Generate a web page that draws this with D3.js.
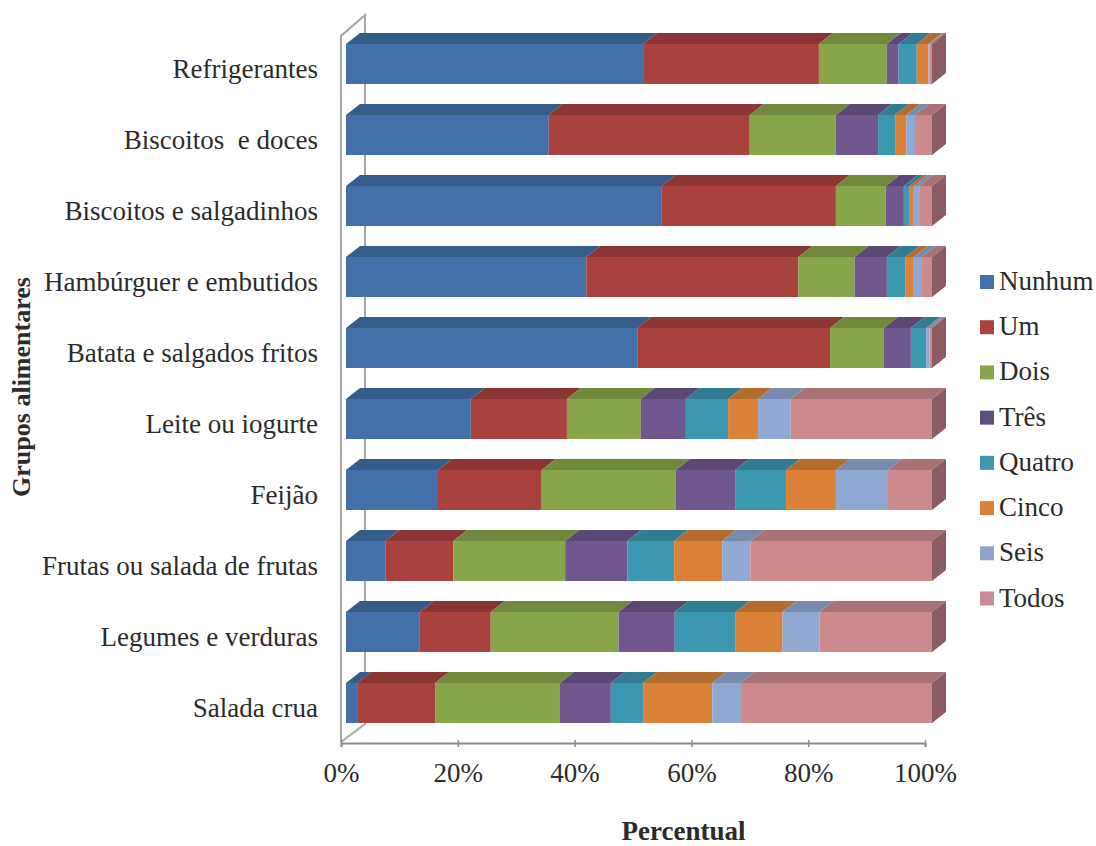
<!DOCTYPE html>
<html lang="pt">
<head>
<meta charset="utf-8">
<title>Grupos alimentares</title>
<script src="https://cdn.jsdelivr.net/npm/d3@7/dist/d3.min.js"></script>
<style>
  html, body { margin: 0; padding: 0; background: #fff; }
  svg { display: block; }
  text { font-family: "Liberation Serif", serif; fill: #2b2b2b; }
</style>
</head>
<body>
<svg id="chart" width="1096" height="846"></svg>
<script>
// Categories, top to bottom
const categories = ["Refrigerantes", "Biscoitos  e doces", "Biscoitos e salgadinhos",
  "Hambúrguer e embutidos", "Batata e salgados fritos", "Leite ou iogurte", "Feijão",
  "Frutas ou salada de frutas", "Legumes e verduras", "Salada crua"];

// Number of days per series (percent of respondents, one value per category)
const nunhum = [50.7, 34.6, 53.9, 41.0, 49.7, 21.3, 15.7, 6.7, 12.6, 1.9];
const um     = [30.0, 34.3, 29.7, 36.2, 32.9, 16.4, 17.7, 11.6, 12.1, 13.3];
const dois   = [11.6, 14.7, 8.5, 9.6, 9.2, 12.6, 22.9, 19.1, 21.8, 21.3];
const tres   = [2.0, 7.2, 3.1, 5.5, 4.6, 7.7, 10.1, 10.6, 9.6, 8.7];
const quatro = [3.1, 2.9, 1.0, 3.2, 2.6, 7.2, 8.7, 8.0, 10.4, 5.5];
const cinco  = [2.0, 1.9, 0.7, 1.4, 0.0, 5.1, 8.5, 8.2, 8.0, 11.8];
const seis   = [0.2, 1.5, 0.9, 1.4, 0.6, 5.6, 8.9, 4.8, 6.3, 4.9];
const todos  = [0.4, 2.9, 2.2, 1.7, 0.4, 24.1, 7.5, 31.0, 19.2, 32.6];

const seriesNames = ["Nunhum", "Um", "Dois", "Três", "Quatro", "Cinco", "Seis", "Todos"];
const seriesValues = [nunhum, um, dois, tres, quatro, cinco, seis, todos];
const seriesColors = ["#4171a8", "#a9423f", "#89a54a", "#70578e", "#3c97b1", "#db8238", "#8fa9d2", "#cd8a8c"];
const legendColors = ["#4171a8", "#a9423f", "#89a54a", "#5d4e80", "#3c97b1", "#db8238", "#8fa2cc", "#c98a9c"];
const axisTicks = [0, 20, 40, 60, 80, 100];

const svg = d3.select("#chart");
const fontSize = 27;

// Front plane of the bars and the axis plane are offset by the 3D perspective
const x = d3.scaleLinear().domain([0, 100]).range([346, 932]);
const axisX = d3.scaleLinear().domain([0, 100]).range([341, 925]);
const y = d3.scaleBand().domain(categories).range([44, 723]).paddingInner(31 / 71).paddingOuter(0);

const depthX = 14, depthY = 11;
const wallColor = "#a6a6a6";
const axisColor = "#8c8c8c";

// Wall and floor outline behind the bars
const wall = svg.append("g").attr("fill", "none").attr("stroke", wallColor).attr("stroke-width", 2);
wall.append("path").attr("d", d3.line()([[341, 742], [341, 36], [365, 15], [365, 724], [341, 742]]));

// Stacked segments
const stackData = categories.map((c, i) => {
  const row = { category: c };
  seriesNames.forEach((s, k) => { row[s] = seriesValues[k][i]; });
  return row;
});
const stacked = d3.stack().keys(seriesNames)(stackData);

const polygon = pts => pts.map(p => p.join(",")).join(" ");

const bars = svg.append("g");
categories.forEach((c, i) => {
  const top = y(c), h = y.bandwidth();
  const g = bars.append("g");
  // top faces first so that the fronts overlap their seams
  stacked.forEach((layer, k) => {
    const [a, b] = layer[i];
    if (b - a <= 0) return;
    g.append("polygon")
      .attr("points", polygon([[x(a), top], [x(a) + depthX, top - depthY], [x(b) + depthX, top - depthY], [x(b), top]]))
      .attr("fill", d3.color(seriesColors[k]).darker(0.55));
  });
  // right end of the stack
  const endLayer = stacked[stacked.length - 1][i];
  g.append("polygon")
    .attr("points", polygon([[x(endLayer[1]), top], [x(endLayer[1]) + depthX, top - depthY],
      [x(endLayer[1]) + depthX, top + h - depthY], [x(endLayer[1]), top + h]]))
    .attr("fill", "#8b5c64");
  stacked.forEach((layer, k) => {
    const [a, b] = layer[i];
    if (b - a <= 0) return;
    g.append("rect")
      .attr("x", x(a)).attr("y", top)
      .attr("width", x(b) - x(a)).attr("height", h)
      .attr("fill", seriesColors[k]);
  });
});

// Horizontal value axis
const axis = d3.axisBottom(axisX).tickValues(axisTicks).tickFormat(d => d + "%").tickSize(4).tickPadding(16);
const axisG = svg.append("g").attr("transform", "translate(0,743)").call(axis);
axisG.selectAll("path,line").attr("stroke", axisColor).attr("stroke-width", 2);
axisG.selectAll(".tick line").attr("stroke-width", 1.5).attr("y1", -3);
axisG.selectAll("text").attr("font-size", fontSize).attr("font-family", "Liberation Serif").attr("fill", "#2b2b2b");

// Category labels
svg.append("g").selectAll("text").data(categories).join("text")
  .attr("x", 318)
  .attr("y", d => y(d) + y.bandwidth() / 2 + 14)
  .attr("text-anchor", "end")
  .attr("font-size", fontSize)
  .style("white-space", "pre")
  .text(d => d);

// Axis titles
svg.append("text").attr("x", 683.5).attr("y", 839.5).attr("text-anchor", "middle")
  .attr("font-size", fontSize).attr("font-weight", "bold").text("Percentual");
svg.append("text").attr("transform", "translate(30,387) rotate(-90)").attr("text-anchor", "middle")
  .attr("font-size", 26).attr("font-weight", "bold").text("Grupos alimentares");

// Legend
const legendY = d3.scalePoint().domain(seriesNames).range([282, 598.5]);
const legend = svg.append("g").selectAll("g").data(seriesNames).join("g")
  .attr("transform", d => `translate(980,${legendY(d)})`);
legend.append("rect").attr("x", 0).attr("y", -7).attr("width", 14).attr("height", 14)
  .attr("fill", (d, i) => legendColors[i]);
legend.append("text").attr("x", 19).attr("y", 8).attr("font-size", fontSize).text(d => d);
</script>
</body>
</html>
